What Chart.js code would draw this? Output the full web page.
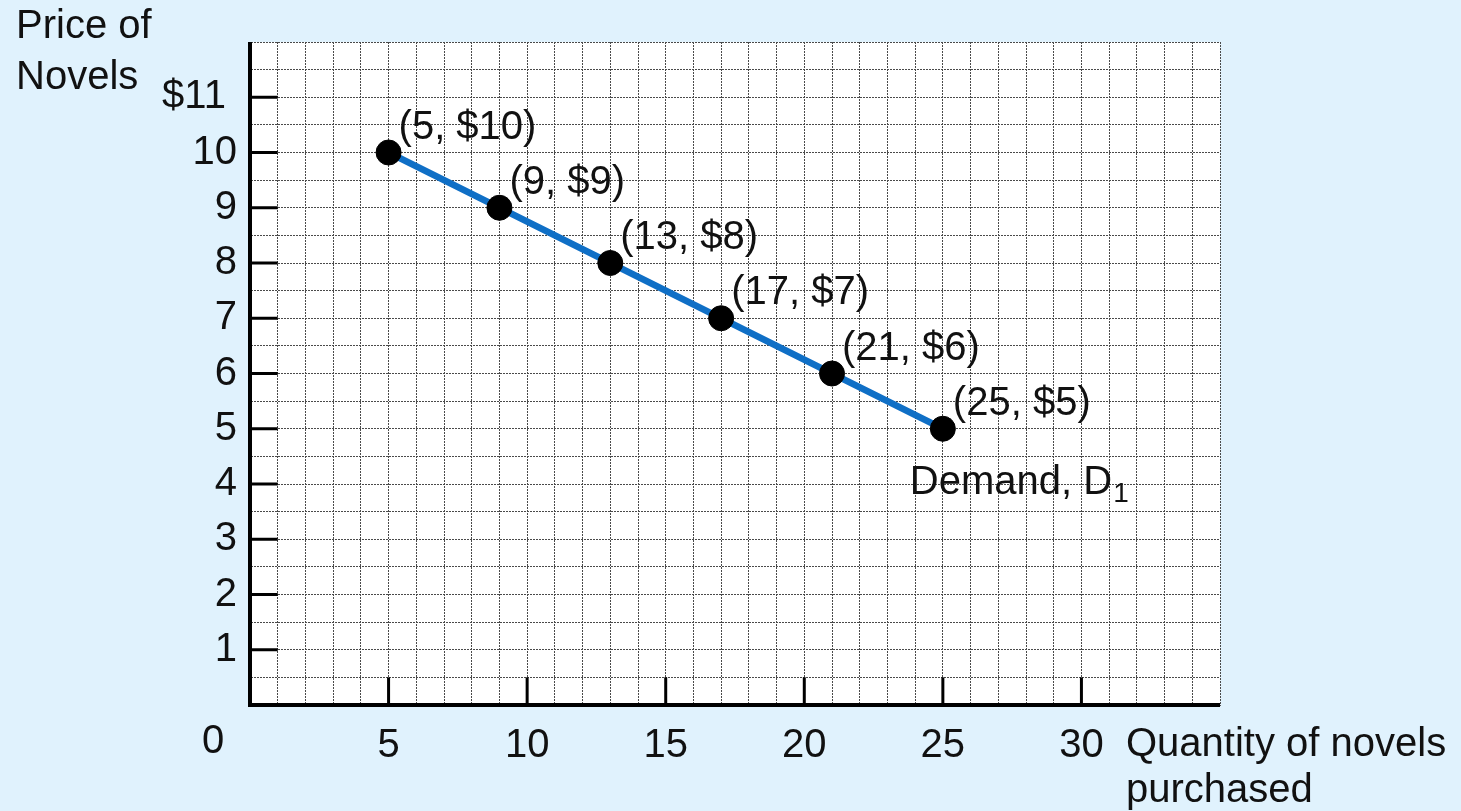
<!DOCTYPE html>
<html>
<head>
<meta charset="utf-8">
<script src="https://cdn.jsdelivr.net/npm/chart.js@4/dist/chart.umd.min.js"></script>
<style>
  html, body { margin: 0; padding: 0; background: #e0f2fd; }
  #wrap { width: 1461px; height: 811px; position: relative; }
</style>
</head>
<body>
<div id="wrap"><canvas id="demand"></canvas></div>
<script>
// demand schedule points
var quantities = [5, 9, 13, 17, 21, 25];
var prices = [10, 9, 8, 7, 6, 5];

// axis ticks
var xTickLabels = [5, 10, 15, 20, 25, 30];
var yTickLabels = [1, 2, 3, 4, 5, 6, 7, 8, 9, 10, 11];

var xMax = 35;
var yMax = 12;

var font = '"Liberation Sans", Arial, sans-serif';
var fontSize = 40;

var points = quantities.map(function (q, i) {
	return { x: q, y: prices[i] };
});

// custom drawing: axes, tick marks, axis titles, point labels
var decorations = {
	id: 'decorations',
	afterDraw: function (chart) {
		var ctx = chart.ctx;
		var xs = chart.scales.x;
		var ys = chart.scales.y;
		var area = chart.chartArea;

		ctx.save();
		ctx.strokeStyle = '#000';
		ctx.lineCap = 'butt';

		// tick marks on y axis
		ctx.lineWidth = 3;
		yTickLabels.forEach(function (v) {
			var py = ys.getPixelForValue(v);
			ctx.beginPath();
			ctx.moveTo(area.left, py);
			ctx.lineTo(xs.getPixelForValue(1), py);
			ctx.stroke();
		});
		// tick marks on x axis
		xTickLabels.forEach(function (v) {
			var px = xs.getPixelForValue(v);
			ctx.beginPath();
			ctx.moveTo(px, area.bottom);
			ctx.lineTo(px, ys.getPixelForValue(0.5));
			ctx.stroke();
		});

		// main axes
		ctx.lineWidth = 4;
		ctx.beginPath();
		ctx.moveTo(area.left, area.top);
		ctx.lineTo(area.left, area.bottom);
		ctx.lineTo(area.right, area.bottom);
		ctx.stroke();

		// text
		ctx.fillStyle = '#111';
		ctx.font = fontSize + 'px ' + font;
		ctx.textBaseline = 'middle';
		ctx.textAlign = 'left';

		ctx.fillText('Price of', 16, 27);
		ctx.fillText('Novels', 16, 78);
		ctx.fillText('Quantity of novels', 1126, 745);
		ctx.fillText('purchased', 1126, 791);

		ctx.textAlign = 'center';
		ctx.fillText('0', xs.getPixelForValue(0) - 37, 742);

		ctx.textAlign = 'left';
		points.forEach(function (p) {
			var px = xs.getPixelForValue(p.x);
			var py = ys.getPixelForValue(p.y);
			ctx.fillText('(' + p.x + ', $' + p.y + ')', px + 10, py - 25);
		});

		// demand curve label
		var last = points[points.length - 1];
		var lx = xs.getPixelForValue(last.x) - 33;
		var ly = ys.getPixelForValue(last.y) + 54;
		ctx.fillText('Demand, D', lx, ly);
		var w = ctx.measureText('Demand, D').width;
		ctx.font = '28px ' + font;
		ctx.fillText('1', lx + w + 1, ly + 12);

		ctx.restore();
	}
};

var context = document.getElementById('demand').getContext('2d');
var chart = new Chart(context, {
	type: 'scatter',
	data: {
		datasets: [{
			label: 'Demand',
			data: points,
			showLine: true,
			borderColor: '#0f6fc6',
			borderWidth: 6.5,
			pointRadius: 12.5,
			pointHoverRadius: 12.5,
			pointBackgroundColor: '#000',
			pointBorderColor: '#000',
			pointBorderWidth: 1
		}]
	},
	options: {
		responsive: true,
		maintainAspectRatio: false,
		animation: false,
		events: [],
		layout: { padding: { left: 0, top: 42, right: 241, bottom: 0 } },
		plugins: {
			legend: { display: false },
			tooltip: { enabled: false }
		},
		scales: {
			x: {
				type: 'linear',
				min: 0,
				max: xMax,
				afterFit: function (scale) { scale.height = 106; },
				border: { display: true, color: '#555', width: 1, dash: [2, 1] },
				grid: {
					color: '#4a4a4a',
					lineWidth: 1,
					drawTicks: false
				},
				ticks: {
					stepSize: 1,
					autoSkip: false,
					maxRotation: 0,
					padding: 17,
					color: '#111',
					font: { family: font, size: fontSize },
					callback: function (value) {
						return xTickLabels.indexOf(value) >= 0 ? String(value) : '';
					}
				}
			},
			y: {
				type: 'linear',
				min: 0,
				max: yMax,
				afterFit: function (scale) { scale.width = 250; },
				border: { display: true, color: '#555', width: 1, dash: [2, 1] },
				grid: {
					color: '#4a4a4a',
					lineWidth: 1,
					drawTicks: false
				},
				ticks: {
					stepSize: 0.5,
					autoSkip: false,
					padding: 13,
					color: '#111',
					font: { family: font, size: fontSize },
					callback: function (value) {
						if (yTickLabels.indexOf(value) < 0) return '';
						return value === 11 ? '$11 ' : String(value);
					}
				}
			}
		}
	},
	plugins: [decorations, {
		id: 'plotBackground',
		beforeDraw: function (chart) {
			var ctx = chart.ctx;
			var a = chart.chartArea;
			ctx.save();
			ctx.fillStyle = '#ffffff';
			ctx.fillRect(a.left, a.top, a.right - a.left, a.bottom - a.top);
			ctx.restore();
		}
	}]
});
// dotted grid lines
chart.options.scales.x.grid.borderDash = [2, 1];
chart.options.scales.y.grid.borderDash = [2, 1];
chart.update();
</script>
</body>
</html>
